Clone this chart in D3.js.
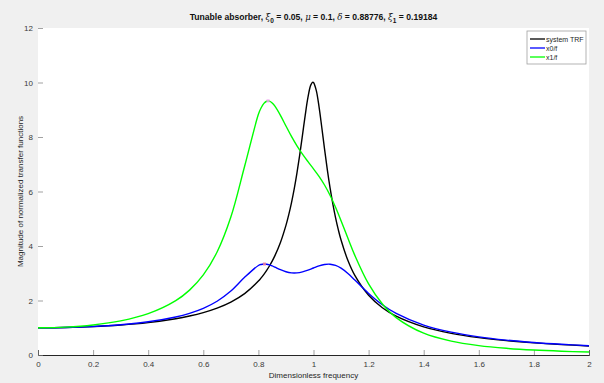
<!DOCTYPE html>
<html>
<head>
<meta charset="utf-8">
<script src="https://cdn.jsdelivr.net/npm/d3@7"></script>
<style>
  html, body { margin: 0; padding: 0; background: #f0f0f0; }
  svg { display: block; font-family: "Liberation Sans", Arial, Helvetica, sans-serif; }
</style>
</head>
<body>
<svg id="chart" width="604" height="383"></svg>
<script>
// Frequency grid for the single-degree-of-freedom response (dense around resonance)
const freqTRF = [0, 0.1, 0.2, 0.3, 0.4, 0.5, 0.55, 0.6, 0.65, 0.7, 0.75, 0.8, 0.81, 0.82, 0.83, 0.84, 0.85, 0.86, 0.88, 0.9, 0.91, 0.92, 0.93, 0.94, 0.95, 0.96, 0.97, 0.98, 0.99, 0.9975, 1.0, 1.01, 1.02, 1.03, 1.04, 1.05, 1.06, 1.07, 1.08, 1.09, 1.1, 1.125, 1.15, 1.2, 1.25, 1.3, 1.4, 1.5, 1.6, 1.7, 1.8, 1.9, 2.0];
const trfMag = [1, 1.0101, 1.0414, 1.0983, 1.1891, 1.3304, 1.4293, 1.5557, 1.7207, 1.9426, 2.2529, 2.7116, 2.8304, 2.9611, 3.1058, 3.2664, 3.4456, 3.6465, 4.1296, 4.7565, 5.1413, 5.5852, 6.0970, 6.6838, 7.3460, 8.0680, 8.8038, 9.4609, 9.9030, 10.0125, 10.0, 9.7106, 9.1150, 8.3572, 7.5647, 6.8150, 6.1415, 5.5517, 5.0409, 4.5998, 4.2183, 3.4666, 2.9207, 2.1927, 1.7355, 1.4242, 1.0308, 0.7943, 0.6377, 0.5270, 0.4450, 0.3821, 0.3326];

// Frequency grid for the primary mass (x0/f) and absorber mass (x1/f)
const freq = [0, 0.1, 0.2, 0.3, 0.4, 0.5, 0.55, 0.6, 0.65, 0.7, 0.75, 0.8, 0.81, 0.82, 0.83, 0.84, 0.85, 0.86, 0.88, 0.9, 0.92, 0.94, 0.96, 0.98, 1.0, 1.02, 1.04, 1.06, 1.08, 1.1, 1.125, 1.15, 1.2, 1.25, 1.3, 1.4, 1.5, 1.6, 1.7, 1.8, 1.9, 2.0];
const x0Mag = [1, 1.0111, 1.0460, 1.1107, 1.2178, 1.3958, 1.5297, 1.7130, 1.9725, 2.3467, 2.8493, 3.2847, 3.3228, 3.3384, 3.3325, 3.3084, 3.2709, 3.2253, 3.1300, 3.0543, 3.0143, 3.0141, 3.0502, 3.1138, 3.1920, 3.2678, 3.3213, 3.3324, 3.2889, 3.1869, 2.9920, 2.7528, 2.2602, 1.8448, 1.5254, 1.0977, 0.8371, 0.6660, 0.5465, 0.4589, 0.3923, 0.3403];
const x1Mag = [1, 1.0241, 1.1015, 1.2510, 1.5155, 1.9940, 2.3807, 2.9399, 3.7777, 5.0616, 6.9261, 8.8315, 9.0716, 9.2329, 9.3128, 9.3154, 9.2508, 9.1331, 8.7957, 8.4039, 8.0207, 7.6742, 7.3690, 7.0948, 6.8319, 6.5552, 6.2384, 5.8613, 5.4212, 4.9287, 4.2825, 3.6565, 2.6079, 1.8700, 1.3725, 0.7992, 0.5077, 0.3443, 0.2451, 0.1813, 0.1382, 0.1080];

// Peak locations flagged on the absorber curves
const peakFreq = [0.822, 0.835];
const peakMag = [3.339, 9.325];
const peakColors = ["#ef7f9f", "#f09ef0"];

const seriesNames = ["system TRF", "x0/f", "x1/f"];
const seriesColors = ["#000000", "#0000ff", "#00ff00"];
const xTicks = [0, 0.2, 0.4, 0.6, 0.8, 1, 1.2, 1.4, 1.6, 1.8, 2];
const yTicks = [0, 2, 4, 6, 8, 10, 12];
const xLabel = "Dimensionless frequency";
const yLabel = "Magnitude of normalized transfer functions";

const svg = d3.select("#chart");
const W = 604, H = 383;
const plot = { left: 38, right: 589, top: 28, bottom: 355 };

svg.append("rect").attr("width", W).attr("height", H).attr("fill", "#f0f0f0");
svg.append("rect")
  .attr("x", plot.left).attr("y", plot.top)
  .attr("width", plot.right - plot.left).attr("height", plot.bottom - plot.top)
  .attr("fill", "#ffffff");

const x = d3.scaleLinear().domain([0, 2]).range([plot.left, plot.right]);
const y = d3.scaleLinear().domain([0, 12]).range([plot.bottom, plot.top]);

// Axes: ticks point into the plot area
const xAxis = d3.axisBottom(x).tickValues(xTicks).tickSize(-5).tickPadding(6)
  .tickFormat(d => d === 0 || d === 1 || d === 2 ? d3.format("d")(d) : d3.format(".1f")(d));
const gx = svg.append("g").attr("transform", `translate(0,${plot.bottom})`).call(xAxis);
gx.select(".domain").attr("stroke", "#262626").attr("stroke-width", 1);
gx.selectAll(".tick line").attr("stroke", "#7a7a7a").attr("stroke-width", 0.7);
gx.selectAll(".tick text").attr("fill", "#3a3a3a").attr("font-size", 8)
  .attr("font-family", "'Liberation Sans', Arial, sans-serif");

const yAxis = d3.axisLeft(y).tickValues(yTicks).tickSize(-5).tickPadding(5).tickFormat(d3.format("d"));
const gy = svg.append("g").attr("transform", `translate(${plot.left},0)`).call(yAxis);
gy.select(".domain").remove();
gy.selectAll(".tick line").attr("stroke", "#7a7a7a").attr("stroke-width", 0.7);
gy.selectAll(".tick text").attr("fill", "#3a3a3a").attr("font-size", 8)
  .attr("font-family", "'Liberation Sans', Arial, sans-serif");

// Curves
const line = d3.line().x(d => x(d[0])).y(d => y(d[1])).curve(d3.curveCatmullRom.alpha(0.5));
const series = [
  d3.zip(freqTRF, trfMag),
  d3.zip(freq, x0Mag),
  d3.zip(freq, x1Mag)
];
const curves = svg.append("g");
series.forEach((pts, i) => {
  curves.append("path")
    .attr("d", line(pts))
    .attr("fill", "none")
    .attr("stroke", seriesColors[i])
    .attr("stroke-width", 1.4)
    .attr("stroke-linejoin", "round");
});

// Peak markers
svg.append("g").selectAll("rect")
  .data(d3.zip(peakFreq, peakMag, peakColors))
  .join("rect")
  .attr("x", d => x(d[0]) - 1.5)
  .attr("y", d => y(d[1]) - 1.5)
  .attr("width", 3).attr("height", 3)
  .attr("fill", d => d[2]).attr("opacity", 0.85);

// Title with Greek symbols and subscripts
const title = svg.append("text")
  .attr("x", (plot.left + plot.right) / 2).attr("y", 20)
  .attr("text-anchor", "middle")
  .attr("font-size", 8.6).attr("font-weight", "bold").attr("fill", "#111");
const titleParts = [
  { t: "Tunable absorber, " },
  { t: "ξ", greek: true }, { t: "0", sub: true }, { t: " = 0.05, " },
  { t: "μ", greek: true }, { t: " = 0.1, " },
  { t: "δ", greek: true }, { t: " = 0.88776, " },
  { t: "ξ", greek: true }, { t: "1", sub: true }, { t: " = 0.19184" }
];
let lowered = false;
titleParts.forEach(p => {
  const ts = title.append("tspan").text(p.t);
  if (p.greek) ts.attr("font-style", "italic").attr("font-weight", "normal").attr("font-family", "'DejaVu Serif', serif");
  if (p.sub) { ts.attr("dy", 2.5).attr("font-size", 6.5); lowered = true; }
  else if (lowered) { ts.attr("dy", -2.5); lowered = false; }
});

// Axis labels
svg.append("text")
  .attr("x", (plot.left + plot.right) / 2).attr("y", 378)
  .attr("text-anchor", "middle").attr("font-size", 8).attr("fill", "#262626")
  .text(xLabel);
svg.append("text")
  .attr("transform", `translate(23,${(plot.top + plot.bottom) / 2}) rotate(-90)`)
  .attr("text-anchor", "middle").attr("font-size", 8).attr("fill", "#262626")
  .text(yLabel);

// Legend
const lg = svg.append("g").attr("transform", "translate(527,31)");
lg.append("rect").attr("width", 59).attr("height", 33)
  .attr("fill", "#ffffff").attr("stroke", "#a0a0a0").attr("stroke-width", 0.8);
seriesNames.forEach((name, i) => {
  const yy = 8 + i * 9;
  lg.append("line").attr("x1", 3).attr("x2", 18).attr("y1", yy).attr("y2", yy)
    .attr("stroke", seriesColors[i]).attr("stroke-width", 1.3);
  lg.append("text").attr("x", 19).attr("y", yy + 2.5)
    .attr("font-size", 7).attr("fill", "#262626").text(name);
});
</script>
</body>
</html>
